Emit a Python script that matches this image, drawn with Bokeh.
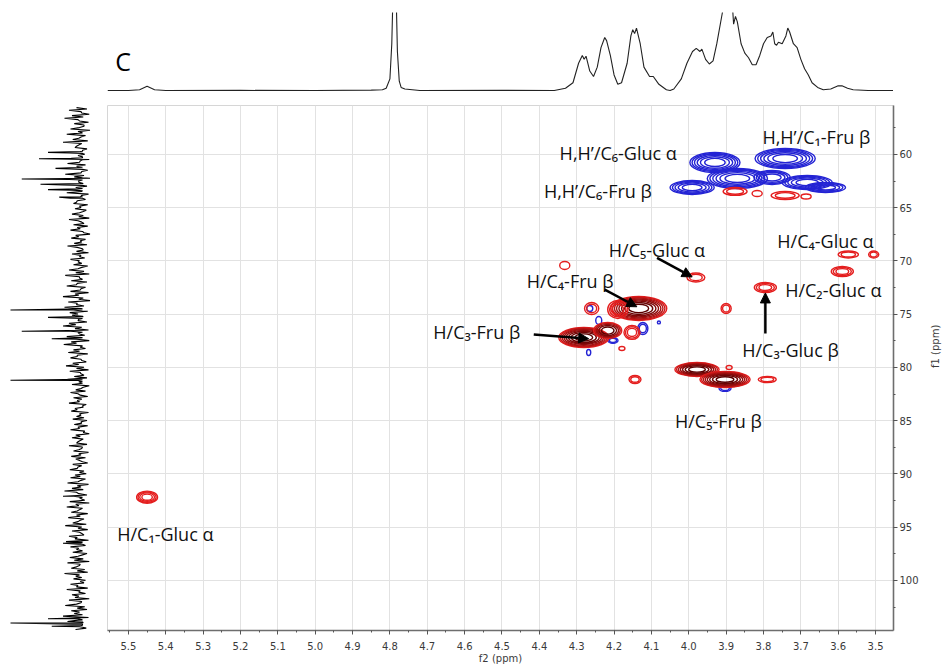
import math
import numpy as np
from bokeh.plotting import figure
from bokeh.models import (ColumnDataSource, Range1d, SingleIntervalTicker,
                          PrintfTickFormatter, Arrow, NormalHead)
from bokeh.layouts import column, row
from bokeh.embed import file_html
from bokeh.resources import INLINE
from bokeh.core.properties import value, field

# ---------------- data ----------------
# 1H projection (top): chemical shift (ppm) and relative intensity
top_ppm = [5.556, 5.50, 5.47, 5.45, 5.43, 5.40, 5.20, 5.00, 4.85, 4.82, 4.81, 4.80,
           4.795, 4.79, 4.785, 4.78, 4.775, 4.77, 4.76, 4.74, 4.72, 4.50, 4.36, 4.34,
           4.33, 4.31, 4.295, 4.285, 4.28, 4.275, 4.265, 4.255, 4.245, 4.235, 4.225,
           4.22, 4.21, 4.20, 4.19, 4.18, 4.165, 4.155, 4.15, 4.145, 4.14, 4.13, 4.12,
           4.105, 4.095, 4.08, 4.06, 4.05, 4.04, 4.02, 4.005, 3.99, 3.98, 3.97, 3.965,
           3.955, 3.945, 3.935, 3.925, 3.91, 3.90, 3.89, 3.88, 3.875, 3.87, 3.86, 3.85,
           3.84, 3.83, 3.82, 3.81, 3.80, 3.79, 3.78, 3.775, 3.77, 3.765, 3.76, 3.75,
           3.74, 3.735, 3.73, 3.72, 3.71, 3.70, 3.69, 3.68, 3.67, 3.655, 3.64, 3.62,
           3.60, 3.59, 3.575, 3.56, 3.52, 3.50, 3.452]
top_int = [0.0, 0.0, 0.01, 0.055, 0.01, 0.0, 0.002, 0.0, 0.005, 0.01, 0.03, 0.15,
           0.6, 1.6, 1.6, 0.5, 0.12, 0.04, 0.02, 0.01, 0.0, 0.002, 0.0, 0.02,
           0.03, 0.10, 0.35, 0.45, 0.40, 0.44, 0.25, 0.18, 0.30, 0.55, 0.68,
           0.64, 0.45, 0.20, 0.08, 0.10, 0.35, 0.70, 0.78, 0.73, 0.80, 0.60, 0.30,
           0.18, 0.18, 0.08, 0.01, 0.0, 0.02, 0.15, 0.35, 0.50, 0.54, 0.50, 0.53,
           0.40, 0.34, 0.38, 0.60, 1.0, 1.6, 1.6, 0.85, 0.95, 0.88, 0.60, 0.48,
           0.42, 0.33, 0.33, 0.45, 0.60, 0.68, 0.70, 0.75, 0.60, 0.58, 0.62, 0.60,
           0.70, 0.80, 0.75, 0.60, 0.55, 0.40, 0.28, 0.20, 0.10, 0.04, 0.01, 0.02,
           0.06, 0.06, 0.03, 0.01, 0.0, 0.0, 0.0]

# 13C projection (left): noisy trace 55.6-104.6 ppm (upper and lower excursions) plus peaks
left_noise_a = [0.12, 0.22, 0.05, 0.18, 0.28, 0.08, 0.15, 0.02, 0.20, 0.10, 0.25, 0.06, 0.17, 0.30, 0.09, 0.14, 0.04, 0.21,
                0.10, 0.19, 0.07, 0.24, 0.12, 0.20, 0.05, 0.27, 0.15, 0.22, 0.09, 0.30, 0.13, 0.18, 0.25, 0.06, 0.20, 0.11, 0.16, 0.08,
                0.14, 0.03, 0.18, 0.09, 0.22, 0.05, 0.16, 0.11, 0.20, 0.02, 0.13, 0.19, 0.07, 0.15, 0.24, 0.04, 0.12, 0.18, 0.08, 0.20,
                0.10, 0.16, 0.05, 0.22, 0.13, 0.27, 0.08, 0.19, 0.11, 0.25, 0.06, 0.20, 0.14, 0.30, 0.09, 0.23, 0.12, 0.28, 0.16, 0.21,
                0.18, 0.26, 0.10, 0.22, 0.30, 0.14, 0.20, 0.08, 0.25, 0.12, 0.19, 0.29, 0.07, 0.16, 0.23, 0.11, 0.20, 0.05, 0.17, 0.26,
                0.12, 0.21, 0.06, 0.15, 0.24, 0.09, 0.18, 0.03, 0.13, 0.20, 0.07, 0.16, 0.11, 0.22, 0.04, 0.14, 0.19, 0.08, 0.12, 0.17,
                0.06, 0.15, 0.10, 0.20, 0.03, 0.13, 0.18, 0.07, 0.12, 0.22, 0.05, 0.16, 0.09, 0.19, 0.13, 0.04, 0.17, 0.10, 0.21, 0.08,
                0.14, 0.20, 0.06, 0.24, 0.11, 0.18, 0.28, 0.09, 0.16, 0.05, 0.21, 0.13, 0.25, 0.08, 0.19, 0.12, 0.23, 0.07, 0.17, 0.27,
                0.10, 0.18, 0.05, 0.22, 0.14, 0.26, 0.09, 0.20, 0.12, 0.17, 0.04, 0.21, 0.15, 0.24, 0.08, 0.19, 0.11, 0.28, 0.13, 0.16,
                0.07, 0.20, 0.12, 0.25, 0.09, 0.18, 0.14, 0.22, 0.06, 0.27, 0.11, 0.19, 0.15, 0.30, 0.10, 0.24, 0.17, 0.08, 0.13]
left_noise_b = [-0.02, 0.06, -0.05, 0.03, 0.10, -0.04, 0.02, 0.08, -0.06, 0.04, 0.0, 0.09, -0.03, 0.05, 0.12, -0.02, 0.07, 0.01,
                0.04, -0.05, 0.08, 0.0, 0.11, -0.03, 0.06, 0.02, -0.06, 0.09, 0.03, -0.02, 0.10, 0.05, -0.04, 0.07, 0.0, 0.12, -0.03, 0.06,
                -0.01, 0.08, 0.03, -0.05, 0.10, 0.02, -0.03, 0.07, 0.04, -0.06, 0.09, 0.0, 0.05, -0.02, 0.11, 0.03, -0.04, 0.06, 0.01, 0.08,
                0.05, -0.03, 0.10, 0.02, -0.05, 0.08, 0.04, -0.02, 0.12, 0.0, 0.07, -0.04, 0.09, 0.03, -0.06, 0.11, 0.02, 0.06, -0.03, 0.10,
                0.03, 0.09, -0.02, 0.13, 0.05, -0.04, 0.10, 0.01, 0.07, -0.05, 0.12, 0.04, 0.0, 0.08, -0.03, 0.11, 0.06, -0.01, 0.09, 0.02,
                -0.04, 0.07, 0.02, -0.02, 0.09, 0.04, -0.05, 0.06, 0.0, 0.10, -0.03, 0.05, 0.08, -0.01, 0.03, 0.11, -0.04, 0.06, 0.02, -0.02,
                0.05, -0.03, 0.08, 0.01, -0.05, 0.07, 0.03, 0.10, -0.02, 0.04, 0.09, -0.04, 0.06, 0.0, 0.08, -0.03, 0.05, 0.11, 0.02, -0.01,
                0.07, 0.0, 0.10, -0.04, 0.06, 0.03, 0.12, -0.02, 0.08, 0.01, -0.05, 0.09, 0.04, 0.11, -0.03, 0.07, 0.02, 0.10, -0.01, 0.05,
                -0.03, 0.08, 0.02, 0.11, -0.04, 0.06, 0.0, 0.09, 0.04, -0.02, 0.10, 0.03, -0.05, 0.07, 0.12, 0.01, -0.03, 0.08, 0.05, 0.0,
                0.02, 0.10, -0.03, 0.07, 0.0, 0.09, -0.05, 0.05, 0.12, 0.01, -0.02, 0.08, 0.04, -0.04, 0.10, 0.03, 0.06, -0.01, 0.11, 0.0,
                0.06, -0.02, 0.09, 0.03, -0.04, 0.11, 0.05, 0.0, 0.08, -0.03, 0.13, 0.04, -0.01, 0.10, 0.02, 0.07, -0.05, 0.09, 0.03]
left_peak_ppm = [59.8, 60.4, 61.3, 62.3, 62.8, 63.3, 64.0, 74.6, 75.3, 76.6, 77.3, 81.2, 92.1, 96.5, 103.6, 104.0, 104.3]
left_peak_int = [0.50, 0.62, 0.40, 0.85, 0.60, 0.50, 0.35, 1.00, 0.50, 0.85, 0.45, 1.00, 0.30, 0.30, 0.50, 1.00, 0.45]

# HSQC cross peaks, positive phase (red): 1H ppm, 13C ppm, widths, contour count, dark core
red_h = [5.450, 4.281, 4.217, 4.134, 4.190, 4.260, 4.152, 4.332, 3.981, 3.900, 3.795, 3.589,
         3.573, 3.505, 3.978, 3.903, 4.144, 3.790, 3.892, 4.179, 3.876, 3.817, 3.742, 3.686]
red_c = [92.18, 77.18, 76.53, 74.46, 74.55, 74.46, 76.71, 70.42, 71.55, 74.46, 72.49, 70.99,
         69.39, 69.39, 80.19, 81.13, 81.13, 81.13, 80.0, 78.22, 63.47, 63.66, 63.85, 63.94]
red_w = [0.056, 0.134, 0.075, 0.150, 0.054, 0.038, 0.043, 0.027, 0.048, 0.027, 0.059, 0.059,
         0.054, 0.027, 0.118, 0.134, 0.032, 0.048, 0.016, 0.016, 0.064, 0.027, 0.075, 0.027]
red_hh = [1.13, 1.88, 1.50, 2.25, 1.69, 1.13, 1.31, 0.75, 0.85, 0.94, 0.94, 0.94,
          0.66, 0.66, 1.31, 1.50, 0.75, 0.56, 0.38, 0.38, 0.75, 0.56, 0.75, 0.47]
red_n = [4, 8, 5, 8, 3, 2, 3, 1, 2, 2, 3, 3, 2, 2, 7, 8, 2, 2, 1, 1, 2, 1, 2, 1]
red_dark = [0, 1, 1, 1, 0, 0, 0, 0, 0, 0, 0, 0, 0, 0, 1, 1, 0, 0, 0, 0, 0, 0, 0, 0]

# negative phase (blue)
blue_h = [3.930, 3.742, 3.870, 3.777, 3.683, 3.991, 3.634, 4.265, 4.241, 4.123, 4.203, 4.268, 4.080, 3.903]
blue_c = [60.75, 60.38, 62.25, 62.16, 62.63, 63.10, 63.10, 74.46, 75.59, 76.34, 77.46, 78.59, 75.77, 81.97]
blue_w = [0.134, 0.161, 0.161, 0.097, 0.134, 0.118, 0.107, 0.016, 0.016, 0.027, 0.027, 0.011, 0.008, 0.032]
blue_hh = [1.88, 1.88, 1.88, 1.31, 1.31, 1.31, 0.94, 0.56, 0.75, 1.13, 0.56, 0.56, 0.28, 0.56]
blue_n = [6, 6, 6, 4, 5, 5, 4, 1, 1, 2, 2, 1, 1, 2]

# assignments
label_text = ["H,H\u2019/C\u2086-Gluc \u03b1", "H,H\u2019/C\u2081-Fru \u03b2", "H,H\u2019/C\u2086-Fru \u03b2",
              "H/C\u2085-Gluc \u03b1", "H/C\u2084-Gluc \u03b1", "H/C\u2084-Fru \u03b2", "H/C\u2082-Gluc \u03b1",
              "H/C\u2083-Fru \u03b2", "H/C\u2083-Gluc \u03b2", "H/C\u2085-Fru \u03b2", "H/C\u2081-Gluc \u03b1"]
label_h = [4.032, 3.803, 4.099, 4.214, 3.763, 4.434, 3.742, 4.684, 3.857, 4.037, 5.530]
label_c = [59.86, 58.36, 63.43, 69.0, 68.17, 71.9, 72.68, 76.7, 78.4, 84.98, 95.6]
label_align = ["right", "left", "right", "left", "left", "left", "left", "left", "left", "left", "left"]

arrow_h0 = [4.085, 4.225, 4.415, 3.795]
arrow_c0 = [69.7, 72.7, 76.9, 76.8]
arrow_h1 = [3.991, 4.139, 4.268, 3.795]
arrow_c1 = [71.5, 74.3, 77.3, 73.0]

panel_letter = ["C"]
panel_letter_h = [5.535]
panel_letter_i = [0.385]

# ---------------- helpers ----------------
RED = (228, 30, 30)
DARK = (90, 0, 0)
BLUE = (36, 36, 212)


def hexcol(c):
    return "#%02x%02x%02x" % tuple(int(round(v)) for v in c)


def ring_table(hs, cs, ws, hhs, ns, darks, base):
    xs, ys, ww, hh, cols = [], [], [], [], []
    for h, c, w, ht, n, d in zip(hs, cs, ws, hhs, ns, darks):
        for k in range(n):
            s = np.sqrt(1.0 - k / n)
            xs.append(h); ys.append(c); ww.append(w * s); hh.append(ht * s)
            if d and n > 1:
                t = (k / (n - 1)) ** 0.9
                col = tuple(base[i] + (DARK[i] - base[i]) * t for i in range(3))
            else:
                col = base
            cols.append(hexcol(col))
    return ColumnDataSource(dict(x=xs, y=ys, w=ww, h=hh, c=cols))


red_src = ring_table(red_h, red_c, red_w, red_hh, red_n, red_dark, RED)
blue_src = ring_table(blue_h, blue_c, blue_w, blue_hh, blue_n, [0] * len(blue_n), BLUE)

# ---------------- figures ----------------
xr = Range1d(5.556, 3.452)
yr = Range1d(104.7, 55.4)

# main 2D panel
p = figure(x_range=xr, y_range=yr, frame_width=786, frame_height=525,
           y_axis_location="right", output_backend="svg", toolbar_location=None,
           min_border_left=0, min_border_top=8, min_border_bottom=0, min_border_right=0,
           background_fill_color="white", border_fill_color="white",
           outline_line_color="#d6d6d6")

xt = SingleIntervalTicker(interval=0.1, num_minor_ticks=2)
yt = SingleIntervalTicker(interval=5, num_minor_ticks=2)
p.xaxis.ticker = xt
p.yaxis.ticker = yt
p.xgrid.ticker = xt
p.ygrid.ticker = yt
p.xaxis.formatter = PrintfTickFormatter(format="%.1f")
p.grid.grid_line_color = "#e2e2e2"
p.grid.grid_line_width = 1

for ax in (p.xaxis[0], p.yaxis[0]):
    ax.axis_line_color = "#6e6e6e"
    ax.axis_line_width = 1.6
    ax.major_tick_line_color = "#555555"
    ax.minor_tick_line_color = "#555555"
    ax.major_tick_out = 4
    ax.major_tick_in = 0
    ax.minor_tick_out = 2
    ax.minor_tick_in = 0
    ax.major_label_text_font = "DejaVu Sans"
    ax.major_label_text_font_size = "10px"
    ax.major_label_text_color = "#3a3a3a"
    ax.major_label_standoff = 2
    ax.axis_label_text_font = "DejaVu Sans"
    ax.axis_label_text_font_size = "10px"
    ax.axis_label_text_font_style = "normal"
    ax.axis_label_text_color = "#3a3a3a"
    ax.axis_label_standoff = 0

p.xaxis.axis_label = "f2 (ppm)"
p.xaxis.major_label_standoff = 7
p.yaxis.axis_label = "f1 (ppm)"
p.yaxis.axis_label_standoff = 14
if "axis_label_orientation" in p.yaxis[0].properties():
    p.yaxis[0].axis_label_orientation = math.pi / 2

p.ellipse(x="x", y="y", width="w", height="h", source=blue_src,
          fill_color=None, line_color="c", line_width=1.4)
p.ellipse(x="x", y="y", width="w", height="h", source=red_src,
          fill_color=None, line_color="c", line_width=1.4)

arrow_src = ColumnDataSource(dict(x0=arrow_h0, y0=arrow_c0, x1=arrow_h1, y1=arrow_c1))
p.add_layout(Arrow(end=NormalHead(size=10, fill_color="black", line_color="black"),
                   x_start="x0", y_start="y0", x_end="x1", y_end="y1",
                   line_color="black", line_width=2.5, source=arrow_src))

lab_src = ColumnDataSource(dict(x=label_h, y=label_c, t=label_text, a=label_align))
p.text(x="x", y="y", text="t", source=lab_src, text_align=field("a"),
       text_baseline="middle", text_font=value("Open Sans"),
       text_font_size=value("18px"), text_color="#111111")

# left 13C projection: interleave the two noise excursions, then add peaks
na, nb = len(left_noise_a), len(left_noise_b)
step = (104.6 - 55.6) / (na - 1)
lp = [55.6 + step * i for i in range(na)] + [55.6 + step * (i + 0.5) for i in range(nb)]
li = list(left_noise_a) + list(left_noise_b)
for sp, si in zip(left_peak_ppm, left_peak_int):
    lp += [sp - 0.1, sp, sp + 0.1]
    li += [0.04, si, 0.04]
order = np.argsort(lp)
lp = [lp[i] for i in order]
li = [li[i] for i in order]

pl = figure(x_range=Range1d(1.1333, -0.2933), y_range=yr, frame_width=107, frame_height=525,
            min_border_left=0, min_border_right=0, min_border_top=8, min_border_bottom=0,
            x_axis_location=None, y_axis_location=None, output_backend="svg",
            toolbar_location=None, outline_line_color=None,
            background_fill_color="white", border_fill_color="white")
pl.grid.visible = False
pl.line(x=li, y=lp, line_color="black", line_width=1.1)

# top 1H projection
pt = figure(x_range=xr, y_range=Range1d(-0.025, 1.0), frame_width=786, frame_height=80,
            min_border_left=107, min_border_right=0, min_border_top=12, min_border_bottom=5,
            x_axis_location=None, y_axis_location=None, output_backend="svg",
            toolbar_location=None, outline_line_color=None,
            background_fill_color="white", border_fill_color="white")
pt.grid.visible = False
pt.line(x=top_ppm, y=top_int, line_color="#222222", line_width=1.1)
pt.text(x=panel_letter_h, y=panel_letter_i, text=panel_letter, text_align="left",
        text_baseline="middle", text_font=value("Open Sans"),
        text_font_size=value("25px"), text_color="black")

layout = column(pt, row(pl, p))
open("out.html", "w").write(file_html(layout, INLINE))
